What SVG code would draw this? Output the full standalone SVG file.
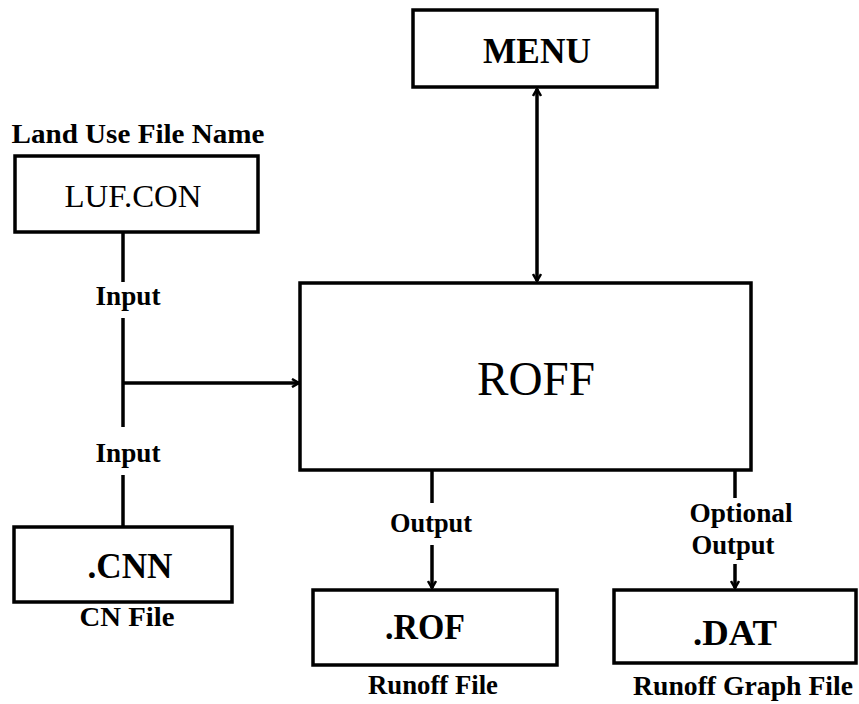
<svg xmlns="http://www.w3.org/2000/svg" width="859" height="704" viewBox="0 0 859 704">
  <style>
    .box { fill: #ffffff; stroke: #000000; stroke-width: 3.5; }
    .wire { fill: none; stroke: #000000; stroke-width: 3.5; }
    text { font-family: "Liberation Serif", "Times New Roman", serif; fill: #000000; text-anchor: middle; }
    .lbl { font-size: 27px; font-weight: bold; }
    .name { font-size: 35px; font-weight: bold; }
  </style>
  <defs>
    <marker id="head" markerWidth="10" markerHeight="10" refX="8" refY="5" orient="auto-start-reverse" markerUnits="userSpaceOnUse">
      <path d="M1,1 L8,5 L1,9" fill="none" stroke="#000000" stroke-width="2.5"/>
    </marker>
  </defs>
  <rect width="859" height="704" fill="#ffffff"/>

  <!-- connectors -->
  <g id="connectors">
    <path class="wire" d="M123,232 V282"/>
    <path class="wire" d="M123,318 V427"/>
    <path class="wire" d="M123,475 V527"/>
    <path class="wire" d="M123,383 H299" marker-end="url(#head)"/>
    <path class="wire" d="M537,89 V281" marker-start="url(#head)" marker-end="url(#head)"/>
    <path class="wire" d="M432,470 V503"/>
    <path class="wire" d="M432,545 V588" marker-end="url(#head)"/>
    <path class="wire" d="M735,470 V498"/>
    <path class="wire" d="M735,564 V588" marker-end="url(#head)"/>
    <text class="lbl" x="128" y="305" textLength="65" lengthAdjust="spacingAndGlyphs">Input</text>
    <text class="lbl" x="128" y="462" textLength="65" lengthAdjust="spacingAndGlyphs">Input</text>
    <text class="lbl" x="431" y="532" textLength="82" lengthAdjust="spacingAndGlyphs">Output</text>
    <text class="lbl" x="741" y="522" textLength="103" lengthAdjust="spacingAndGlyphs">Optional</text>
    <text class="lbl" x="733" y="554" textLength="83" lengthAdjust="spacingAndGlyphs">Output</text>
  </g>

  <g id="menu">
    <rect class="box" x="413" y="10" width="244" height="77"/>
    <text class="name" x="537" y="63" textLength="108" lengthAdjust="spacingAndGlyphs">MENU</text>
  </g>

  <g id="luf">
    <text class="lbl" x="138" y="143" textLength="253" lengthAdjust="spacingAndGlyphs">Land Use File Name</text>
    <rect class="box" x="15" y="156" width="243" height="76"/>
    <text x="133" y="207" font-size="31" textLength="137" lengthAdjust="spacingAndGlyphs">LUF.CON</text>
  </g>

  <g id="roff">
    <rect class="box" x="300" y="283" width="451" height="187"/>
    <text x="536" y="395" font-size="48" textLength="118" lengthAdjust="spacingAndGlyphs">ROFF</text>
  </g>

  <g id="cnn">
    <rect class="box" x="14" y="527" width="218" height="75"/>
    <text class="name" x="130" y="578" textLength="85" lengthAdjust="spacingAndGlyphs">.CNN</text>
    <text class="lbl" x="127" y="626" textLength="95" lengthAdjust="spacingAndGlyphs">CN File</text>
  </g>

  <g id="rof">
    <rect class="box" x="313" y="590" width="244" height="75"/>
    <text class="name" x="425" y="639" textLength="80" lengthAdjust="spacingAndGlyphs">.ROF</text>
    <text class="lbl" x="433" y="694" textLength="130" lengthAdjust="spacingAndGlyphs">Runoff File</text>
  </g>

  <g id="dat">
    <rect class="box" x="614" y="590" width="242" height="73"/>
    <text class="name" x="735" y="645" textLength="84" lengthAdjust="spacingAndGlyphs">.DAT</text>
    <text class="lbl" x="743" y="695" textLength="220" lengthAdjust="spacingAndGlyphs">Runoff Graph File</text>
  </g>
</svg>
